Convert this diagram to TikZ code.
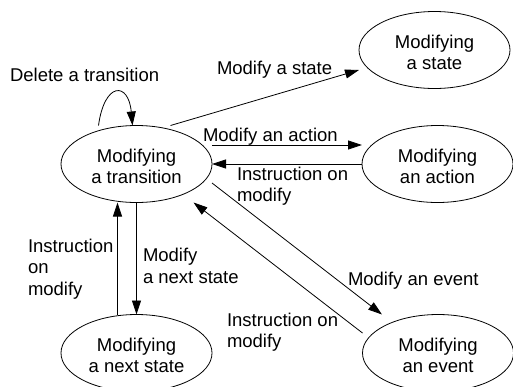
\documentclass[tikz,border=0pt]{standalone}
\usepackage{fontspec}
\setmainfont{Liberation Sans}
\usetikzlibrary{shapes.geometric,arrows.meta}
\newcommand{\toppad}{\rule{0pt}{18.5pt}}
\begin{document}
\begin{tikzpicture}[x=1pt,y=-1pt,
  every node/.style={font=\fontsize{18.5}{21.4}\selectfont},
  statenode/.style={draw, ellipse, minimum width=151pt, minimum height=77pt,
    inner sep=0pt, outer sep=0pt, align=center, line width=0.8pt},
  lbl/.style={inner sep=0pt, outer sep=0pt, align=left},
  link/.style={line width=0.8pt, -{Triangle[length=14pt,width=9pt]}}]

\useasboundingbox (0,0) rectangle (513,386);

% states
\node[statenode] (trans)  at (136.5,164)  {\toppad Modifying\\a transition};
\node[statenode] (state)  at (434.5,50)   {\toppad Modifying\\a state};
\node[statenode] (action) at (437.5,164)  {\toppad Modifying\\an action};
\node[statenode] (next)   at (136.5,353)  {\toppad Modifying\\a next state};
\node[statenode] (event)  at (438,353)    {\toppad Modifying\\an event};

% transitions
\draw[link] ([xshift=-38pt]trans.north) .. controls +(6,-44) and +(-4,-44) .. ([xshift=-4pt]trans.north);
\draw[link] ([xshift=34pt]trans.north) -- ([yshift=-20pt]state.west);
\draw[link] ([yshift=19pt]trans.east) -- ([yshift=19pt]action.west);
\draw[link] (action.west) -- (trans.east);
\draw[link] ([yshift=-19pt]trans.east) -- ([xshift=-56pt]event.north);
\draw[link] ([yshift=20pt]event.west) -- ([xshift=57pt]trans.south);
\draw[link] (trans.south) -- (next.north);
\draw[link] ([xshift=-19pt]next.north) -- ([xshift=-19pt]trans.south);

% labels
\node[lbl, anchor=base west] (ldel)    at (10,81.5)   {Delete a transition};
\node[lbl, anchor=base west] (lstate)  at (217,74.5)  {Modify a state};
\node[lbl, anchor=base west] (laction) at (203,141.5) {Modify an action};
\node[lbl, anchor=north west] (linsa)  at (237,167)   {Instruction on\\modify};
\node[lbl, anchor=base west] (levent)  at (348,285)   {Modify an event};
\node[lbl, anchor=north west] (linse)  at (227,312.7) {Instruction on\\modify};
\node[lbl, anchor=north west] (linsn)  at (28,239)    {Instruction\\on\\modify};
\node[lbl, anchor=north west] (lnext)  at (143,248.3) {Modify\\a next state};
\end{tikzpicture}
\end{document}
